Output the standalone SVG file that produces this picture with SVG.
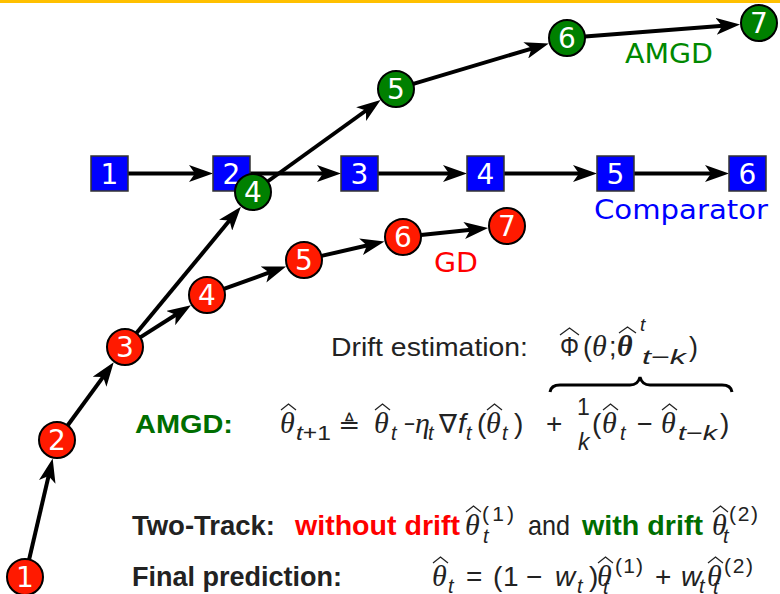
<svg xmlns="http://www.w3.org/2000/svg" width="780" height="594" viewBox="0 0 780 594">
<style>
.sq{fill:#0000FF;stroke:#333;stroke-width:1.5}
.rc{fill:#FF1A00;stroke:#000;stroke-width:2}
.gc{fill:#008000;stroke:#000;stroke-width:2}
.num{font-family:"DejaVu Sans",sans-serif;font-size:28px;fill:#fff;text-anchor:middle}
.lbl{font-family:"DejaVu Sans",sans-serif;font-size:27px}
.edge{stroke:#000;stroke-width:4;fill:none;marker-end:url(#ah)}
.tx{font-family:"Liberation Sans",sans-serif;fill:#222}
.b{font-weight:bold}
.th{font-family:"Liberation Serif",serif;font-style:italic;font-size:30px;fill:#222}
.mi{font-family:"Liberation Sans",sans-serif;font-style:italic;fill:#222}
.up{font-family:"Liberation Sans",sans-serif;fill:#222}
.hat{fill:none;stroke:#222;stroke-width:1.3}
</style>
<defs>
<marker id="ah" markerUnits="userSpaceOnUse" viewBox="0 0 24 17" markerWidth="24" markerHeight="17" refX="7" refY="8.5" orient="auto">
<path d="M0,0 L24,8.5 L0,17 L6,8.5 Z" fill="#000"/>
</marker>
</defs>
<rect x="0" y="0" width="780" height="3" fill="#FFC000"/>

<g id="connectors">
<line class="edge" x1="128" y1="173.5" x2="196" y2="173.5"/>
<line class="edge" x1="250" y1="173.5" x2="324" y2="173.5"/>
<line class="edge" x1="378" y1="173.5" x2="450" y2="173.5"/>
<line class="edge" x1="504" y1="173.5" x2="580" y2="173.5"/>
<line class="edge" x1="634" y1="173.5" x2="712" y2="173.5"/>
<line class="edge" x1="29.1" y1="559.5" x2="48.8" y2="475.1"/>
<line class="edge" x1="67.6" y1="425.5" x2="103.7" y2="376.1"/>
<line class="edge" x1="140.2" y1="337.4" x2="176.6" y2="314.3"/>
<line class="edge" x1="223.9" y1="288.9" x2="270.1" y2="272.2"/>
<line class="edge" x1="321.5" y1="255.9" x2="367.9" y2="245.2"/>
<line class="edge" x1="420.9" y1="235.1" x2="471.2" y2="229.8"/>
<line class="edge" x1="136.5" y1="333.1" x2="230.1" y2="219.8"/>
<line class="edge" x1="267.6" y1="181.5" x2="366.8" y2="110.0"/>
<line class="edge" x1="413.3" y1="83.9" x2="532.5" y2="48.3"/>
<line class="edge" x1="584.9" y1="36.6" x2="723.1" y2="25.8"/>
</g>

<g id="c1"><rect class="sq" x="91" y="156" width="37" height="35"/><text class="num" x="109.5" y="183.7">1</text></g>
<g id="c2"><rect class="sq" x="213" y="156" width="37" height="35"/><text class="num" x="231.5" y="183.7">2</text></g>
<g id="c3"><rect class="sq" x="341" y="156" width="37" height="35"/><text class="num" x="359.5" y="183.7">3</text></g>
<g id="c4"><rect class="sq" x="467" y="156" width="37" height="35"/><text class="num" x="485.5" y="183.7">4</text></g>
<g id="c5"><rect class="sq" x="597" y="156" width="37" height="35"/><text class="num" x="615.5" y="183.7">5</text></g>
<g id="c6"><rect class="sq" x="729" y="156" width="37" height="35"/><text class="num" x="747.5" y="183.7">6</text></g>

<g id="r1"><circle class="rc" cx="25" cy="577" r="18"/><text class="num" x="25" y="587.2">1</text></g>
<g id="r2"><circle class="rc" cx="57" cy="440" r="18"/><text class="num" x="57" y="450.2">2</text></g>
<g id="r3"><circle class="rc" cx="125" cy="347" r="18"/><text class="num" x="125" y="357.2">3</text></g>
<g id="r4"><circle class="rc" cx="207" cy="295" r="18"/><text class="num" x="207" y="305.2">4</text></g>
<g id="r5"><circle class="rc" cx="304" cy="260" r="18"/><text class="num" x="304" y="270.2">5</text></g>
<g id="r6"><circle class="rc" cx="403" cy="237" r="18"/><text class="num" x="403" y="247.2">6</text></g>
<g id="r7"><circle class="rc" cx="507" cy="226" r="18"/><text class="num" x="507" y="236.2">7</text></g>

<g id="g4"><circle class="gc" cx="253" cy="192" r="18"/><text class="num" x="253" y="202.2">4</text></g>
<g id="g5"><circle class="gc" cx="396" cy="89" r="18"/><text class="num" x="396" y="99.2">5</text></g>
<g id="g6"><circle class="gc" cx="567" cy="38" r="18"/><text class="num" x="567" y="48.2">6</text></g>
<g id="g7"><circle class="gc" cx="759" cy="23" r="18"/><text class="num" x="759" y="33.2">7</text></g>

<g id="labels">
<text class="lbl" x="625" y="63" fill="#008800" textLength="88" lengthAdjust="spacingAndGlyphs">AMGD</text>
<text class="lbl" x="594" y="219" fill="#0000FF" textLength="174" lengthAdjust="spacingAndGlyphs">Comparator</text>
<text class="lbl" x="434" y="272" fill="#FF0000" textLength="44" lengthAdjust="spacingAndGlyphs">GD</text>
</g>

<g id="drift">
<text class="tx" x="331" y="356" font-size="26" textLength="197" lengthAdjust="spacingAndGlyphs">Drift estimation:</text>
<text class="up" x="560" y="356" font-size="27" textLength="19" lengthAdjust="spacingAndGlyphs">Φ</text>
<path class="hat" d="M560,335 L569.5,328 L579,335"/>
<text class="up" x="583" y="356" font-size="27">(</text>
<text class="th" x="592" y="356">θ</text>
<text class="up" x="609" y="356" font-size="27">;</text>
<text class="th" x="617" y="356" font-weight="bold">θ</text>
<path class="hat" d="M619,333 L627.5,327 L636,333"/>
<text class="mi" x="640" y="331" font-size="19">t</text>
<text class="mi" x="642" y="364" font-size="21" textLength="44" lengthAdjust="spacingAndGlyphs">t<tspan font-style="normal">−</tspan>k</text>
<text class="up" x="689" y="356" font-size="27">)</text>
<path d="M550,392 Q551,385 560,385 L630,385 Q638,385 640,377 Q642,385 650,385 L722,385 Q731,385 732,392" fill="none" stroke="#000" stroke-width="3"/>
</g>

<g id="amgd-eq">
<text class="tx b" x="135" y="433" font-size="26" style="fill:#006E00" textLength="98" lengthAdjust="spacingAndGlyphs">AMGD:</text>
<text class="th" x="280" y="433">θ</text>
<path class="hat" d="M281,410 L288.5,404 L296,410"/>
<text class="mi" x="296" y="440" font-size="20" textLength="35" lengthAdjust="spacingAndGlyphs">t<tspan font-style="normal">+1</tspan></text>
<text class="up" x="338" y="433" font-size="24" textLength="22" lengthAdjust="spacingAndGlyphs" style="font-family:'DejaVu Sans',sans-serif">≜</text>
<text class="th" x="374" y="433">θ</text>
<path class="hat" d="M375,410 L382.5,404 L390,410"/>
<text class="mi" x="391" y="440" font-size="20">t</text>
<text class="up" x="404" y="433" font-size="26" textLength="11" lengthAdjust="spacingAndGlyphs">−</text>
<text class="th" x="415" y="433">η</text>
<text class="mi" x="428" y="440" font-size="20">t</text>
<text class="up" x="439" y="433" font-size="26" textLength="18" lengthAdjust="spacingAndGlyphs" style="font-family:'DejaVu Sans',sans-serif">∇</text>
<text class="mi" x="458" y="433" font-size="28">f</text>
<text class="mi" x="466" y="440" font-size="20">t</text>
<text class="up" x="477" y="433" font-size="28">(</text>
<text class="th" x="486" y="433">θ</text>
<path class="hat" d="M487,410 L494.5,404 L502,410"/>
<text class="mi" x="502" y="440" font-size="20">t</text>
<text class="up" x="514" y="433" font-size="28">)</text>
<text class="up" x="546" y="433" font-size="28">+</text>
<text class="up" x="577" y="415" font-size="23">1</text>
<text class="mi" x="578" y="450" font-size="23">k</text>
<text class="up" x="592" y="433" font-size="28">(</text>
<text class="th" x="602" y="433">θ</text>
<path class="hat" d="M603,410 L610.5,404 L618,410"/>
<text class="mi" x="620" y="440" font-size="20">t</text>
<text class="up" x="637" y="433" font-size="27">−</text>
<text class="th" x="661" y="433">θ</text>
<path class="hat" d="M662,410 L669.5,404 L677,410"/>
<text class="mi" x="678" y="440" font-size="21" textLength="39" lengthAdjust="spacingAndGlyphs">t<tspan font-style="normal">−</tspan>k</text>
<text class="up" x="720" y="433" font-size="28">)</text>
</g>

<g id="two-track">
<text class="tx b" x="132" y="535" font-size="28" textLength="143" lengthAdjust="spacingAndGlyphs">Two-Track:</text>
<text class="tx b" x="295" y="535" font-size="28" style="fill:#FF0000" textLength="165" lengthAdjust="spacingAndGlyphs">without drift</text>
<text class="th" x="465" y="535">θ</text>
<path class="hat" d="M466,512 L473.5,506 L481,512"/>
<text class="up" x="482" y="521" font-size="21" textLength="32" lengthAdjust="spacing">(1)</text>
<text class="mi" x="483" y="543" font-size="20">t</text>
<text class="tx" x="528" y="535" font-size="28" textLength="42" lengthAdjust="spacingAndGlyphs">and</text>
<text class="tx b" x="582" y="535" font-size="28" style="fill:#006E00" textLength="121" lengthAdjust="spacingAndGlyphs">with drift</text>
<text class="th" x="712" y="535">θ</text>
<path class="hat" d="M713,512 L720.5,506 L728,512"/>
<text class="up" x="729" y="521" font-size="21" textLength="29" lengthAdjust="spacing">(2)</text>
<text class="mi" x="723" y="543" font-size="20">t</text>
</g>

<g id="final">
<text class="tx b" x="132" y="586" font-size="28" textLength="210" lengthAdjust="spacingAndGlyphs">Final prediction:</text>
<text class="th" x="432" y="586">θ</text>
<path class="hat" d="M433,563 L440.5,557 L448,563"/>
<text class="mi" x="448" y="593" font-size="20">t</text>
<text class="up" x="466" y="586" font-size="28">=</text>
<text class="up" x="493" y="586" font-size="28">(</text>
<text class="up" x="503" y="586" font-size="28">1</text>
<text class="up" x="526" y="586" font-size="28">−</text>
<text class="mi" x="555" y="586" font-size="28">w</text>
<text class="mi" x="577" y="593" font-size="20">t</text>
<text class="up" x="589" y="586" font-size="28">)</text>
<text class="th" x="597" y="586">θ</text>
<path class="hat" d="M598,563 L605.5,557 L613,563"/>
<text class="up" x="615" y="573" font-size="21" textLength="28" lengthAdjust="spacing">(1)</text>
<text class="mi" x="603" y="594" font-size="20">t</text>
<text class="up" x="655" y="586" font-size="28">+</text>
<text class="mi" x="681" y="586" font-size="28">w</text>
<text class="mi" x="699" y="593" font-size="20">t</text>
<text class="th" x="707" y="586">θ</text>
<path class="hat" d="M708,563 L715.5,557 L723,563"/>
<text class="up" x="724" y="573" font-size="21" textLength="29" lengthAdjust="spacing">(2)</text>
<text class="mi" x="713" y="594" font-size="20">t</text>
</g>
</svg>
